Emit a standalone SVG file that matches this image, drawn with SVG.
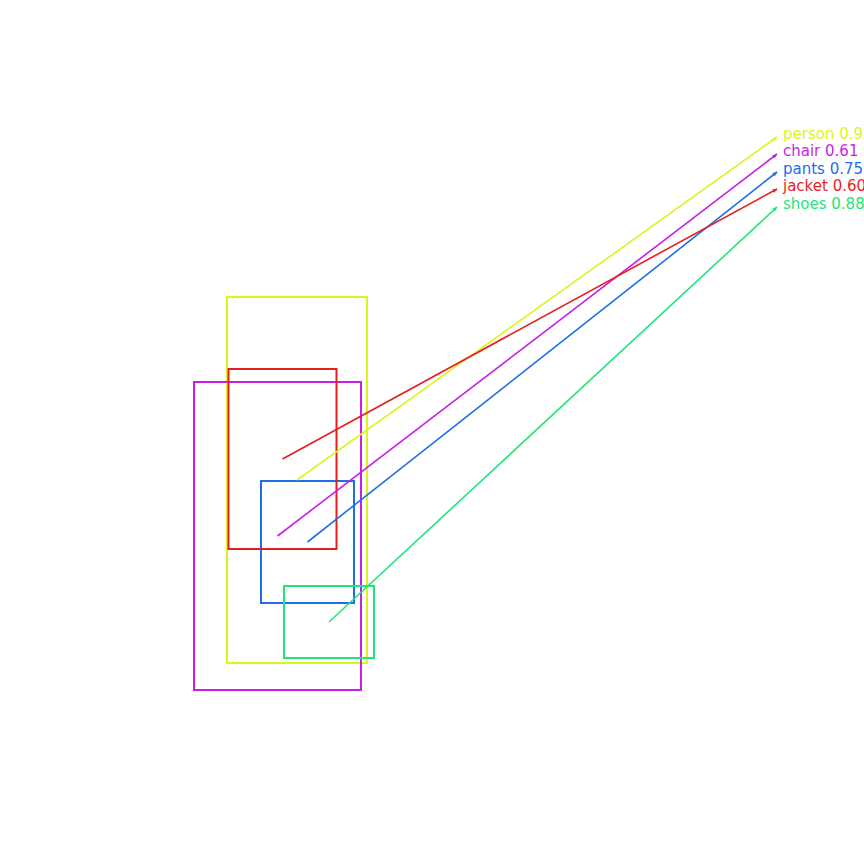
<svg xmlns="http://www.w3.org/2000/svg" width="864" height="864" viewBox="0 0 864 864">
<defs>
<style>
.box{fill:none;stroke-width:2}
.ln{fill:none;stroke-width:1.6}
text{font-family:"DejaVu Sans",sans-serif;font-size:15px;dominant-baseline:central}
</style>
<marker id="ah" viewBox="0 0 10 10" refX="9" refY="5" markerWidth="4" markerHeight="4" orient="auto" markerUnits="userSpaceOnUse"><path d="M0,1 L10,5 L0,9 z" fill="context-stroke"/></marker>
<marker id="a1" viewBox="0 0 10 10" refX="9" refY="5" markerWidth="5" markerHeight="5" orient="auto" markerUnits="userSpaceOnUse"><path d="M0,1 L10,5 L0,9 z" fill="#dcf51e"/></marker>
<marker id="a2" viewBox="0 0 10 10" refX="9" refY="5" markerWidth="5" markerHeight="5" orient="auto" markerUnits="userSpaceOnUse"><path d="M0,1 L10,5 L0,9 z" fill="#c81ee6"/></marker>
<marker id="a3" viewBox="0 0 10 10" refX="9" refY="5" markerWidth="5" markerHeight="5" orient="auto" markerUnits="userSpaceOnUse"><path d="M0,1 L10,5 L0,9 z" fill="#1e6ee6"/></marker>
<marker id="a4" viewBox="0 0 10 10" refX="9" refY="5" markerWidth="5" markerHeight="5" orient="auto" markerUnits="userSpaceOnUse"><path d="M0,1 L10,5 L0,9 z" fill="#e61e1e"/></marker>
<marker id="a5" viewBox="0 0 10 10" refX="9" refY="5" markerWidth="5" markerHeight="5" orient="auto" markerUnits="userSpaceOnUse"><path d="M0,1 L10,5 L0,9 z" fill="#1ee678"/></marker>
</defs>
<rect width="864" height="864" fill="#fff"/>
<g id="person"><rect class="box" x="227" y="297" width="140" height="366" stroke="#dcf51e"/><text x="783" y="134" fill="#dcf51e">person 0.9</text></g>
<g id="chair"><rect class="box" x="194" y="382" width="167" height="308" stroke="#c81ee6"/><text x="783" y="151" fill="#c81ee6">chair 0.61</text></g>
<g id="pants"><rect class="box" x="261" y="481" width="93" height="122" stroke="#1e6ee6"/><text x="783" y="169" fill="#1e6ee6">pants 0.75</text></g>
<g id="jacket"><rect class="box" x="228.5" y="369" width="108" height="180" stroke="#e61e1e"/><text x="783" y="186" fill="#e61e1e">jacket 0.60</text></g>
<g id="shoes"><rect class="box" x="284" y="586" width="90" height="72" stroke="#1ee678"/><text x="783" y="204" fill="#1ee678">shoes 0.88</text></g>
<g id="connectors">
<line class="ln" x1="297" y1="480" x2="777" y2="137" stroke="#dcf51e" marker-end="url(#a1)"/>
<line class="ln" x1="277.5" y1="536" x2="777" y2="154" stroke="#c81ee6" marker-end="url(#a2)"/>
<line class="ln" x1="307.5" y1="542" x2="777" y2="172" stroke="#1e6ee6" marker-end="url(#a3)"/>
<line class="ln" x1="282.5" y1="459" x2="777" y2="189" stroke="#e61e1e" marker-end="url(#a4)"/>
<line class="ln" x1="329" y1="622" x2="777" y2="207" stroke="#1ee678" marker-end="url(#a5)"/>
</g>
</svg>
